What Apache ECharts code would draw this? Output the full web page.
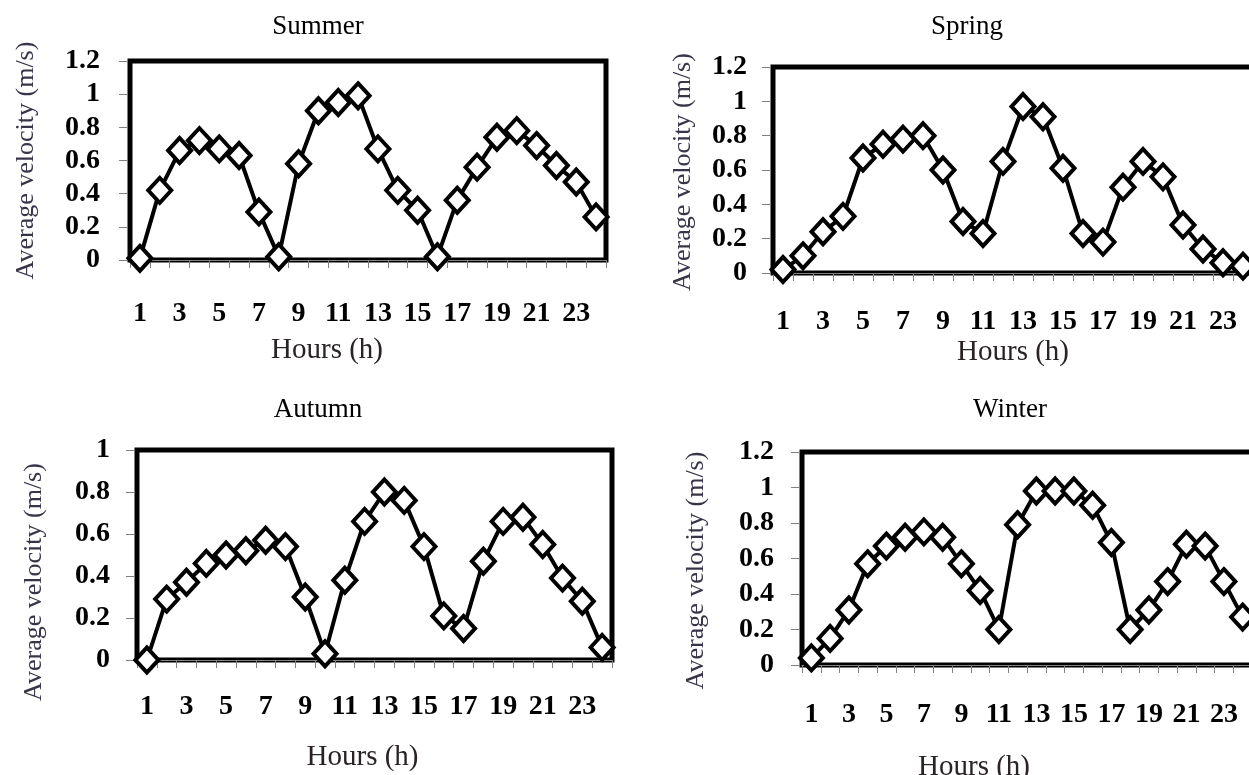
<!DOCTYPE html>
<html>
  <head>
    <meta charset="UTF-8">
    <title>Average velocity by season</title>
    <script src="https://cdn.jsdelivr.net/npm/echarts@6/dist/echarts.min.js"></script>
    <style>
    * {
      margin: 0;
      padding: 0;
    }
    body {
      background: #fff;
    }
    </style>
  </head>
  <body>
    <div id="main" style="width: 1249px;height: 775px"></div>

    <script>
// hours of the day, shared by every panel
var hours = ['1', '2', '3', '4', '5', '6', '7', '8', '9', '10', '11', '12',
  '13', '14', '15', '16', '17', '18', '19', '20', '21', '22', '23', '24']

// average velocity (m/s)
var summer = [0.01, 0.42, 0.66, 0.72, 0.67, 0.63, 0.29, 0.02, 0.58, 0.90, 0.95, 0.99,
  0.67, 0.42, 0.30, 0.02, 0.36, 0.56, 0.74, 0.78, 0.69, 0.57, 0.47, 0.26]
var spring = [0.02, 0.10, 0.24, 0.33, 0.67, 0.75, 0.78, 0.80, 0.60, 0.30, 0.23, 0.65,
  0.97, 0.91, 0.61, 0.23, 0.18, 0.50, 0.65, 0.56, 0.28, 0.14, 0.06, 0.04]
var autumn = [0.00, 0.29, 0.37, 0.46, 0.50, 0.52, 0.57, 0.54, 0.30, 0.03, 0.38, 0.66,
  0.80, 0.76, 0.54, 0.21, 0.15, 0.47, 0.66, 0.68, 0.55, 0.39, 0.28, 0.06]
var winter = [0.04, 0.15, 0.31, 0.57, 0.67, 0.72, 0.75, 0.72, 0.57, 0.42, 0.20, 0.79,
  0.98, 0.98, 0.98, 0.90, 0.69, 0.20, 0.31, 0.47, 0.68, 0.67, 0.47, 0.27]

var seasons = ['Summer', 'Spring', 'Autumn', 'Winter']
var seriesData = [summer, spring, autumn, winter]
var yMax = [1.2, 1.2, 1, 1.2]

// layout of each panel (picked to sit where the original ones do)
var panels = [
  { grid: [130, 61, 476, 199], title: [318, 13], yMargin: 27, yGap: 88, yShift: 0, xMargin: 37, xGap: 73, xShift: -41 },
  { grid: [773, 67, 480, 206], title: [967, 13], yMargin: 23, yGap: 74, yShift: 2, xMargin: 32, xGap: 62, xShift: 0 },
  { grid: [137, 450, 475, 210], title: [318, 396], yMargin: 24, yGap: 87, yShift: 27, xMargin: 30, xGap: 80, xShift: -12 },
  { grid: [802, 452, 450, 213], title: [1010, 396], yMargin: 25, yGap: 90, yShift: 12, xMargin: 33, xGap: 85, xShift: -53 }
]

var font = 'Liberation Serif, Times New Roman, serif'
var gray = '#808080'

var option = {
  backgroundColor: '#fff',
  animation: false,
  title: [],
  grid: [],
  xAxis: [],
  yAxis: [],
  series: []
}

panels.forEach(function(p, i) {
  option.title.push({
    text: seasons[i],
    left: p.title[0],
    top: p.title[1],
    textAlign: 'center',
    padding: 0,
    textStyle: { fontFamily: font, fontWeight: 'normal', fontSize: 27, color: '#000' }
  })
  option.grid.push({
    left: p.grid[0], top: p.grid[1], width: p.grid[2], height: p.grid[3],
    outerBoundsMode: 'none',
    containLabel: false,
    show: true, borderColor: '#000', borderWidth: 5, backgroundColor: 'transparent'
  })
  option.xAxis.push({
    type: 'category',
    gridIndex: i,
    data: hours,
    boundaryGap: true,
    offset: 3,
    axisLine: { lineStyle: { color: gray, width: 1 } },
    axisTick: { show: true, interval: 0, length: 8, lineStyle: { color: gray } },
    axisLabel: { interval: 1, margin: p.xMargin, fontFamily: font, fontWeight: 'bold', fontSize: 28, color: '#000' },
    name: 'Hours (h)',
    nameLocation: 'middle',
    nameGap: p.xGap,
    nameTextStyle: {
      fontFamily: font, fontSize: 29, color: '#2a2326',
      padding: p.xShift < 0 ? [0, -2 * p.xShift, 0, 0] : [0, 0, 0, 2 * p.xShift]
    }
  })
  option.yAxis.push({
    type: 'value',
    gridIndex: i,
    min: 0,
    max: yMax[i],
    interval: 0.2,
    offset: 3,
    splitLine: { show: false },
    axisLine: { show: true, lineStyle: { color: gray, width: 1 } },
    axisTick: { show: true, length: 8, lineStyle: { color: gray } },
    axisLabel: { margin: p.yMargin, fontFamily: font, fontWeight: 'bold', fontSize: 28, color: '#000' },
    name: 'Average velocity (m/s)',
    nameLocation: 'middle',
    nameGap: p.yGap,
    nameTextStyle: {
      fontFamily: font, fontSize: 26, color: '#3a3448',
      padding: [0, 2 * p.yShift, 0, 0]
    }
  })
  option.series.push({
    type: 'line',
    name: seasons[i],
    xAxisIndex: i,
    yAxisIndex: i,
    data: seriesData[i],
    clip: false,
    showAllSymbol: true,
    symbol: 'diamond',
    symbolSize: [23, 25],
    lineStyle: { color: '#000', width: 4 },
    itemStyle: { color: '#fff', borderColor: '#000', borderWidth: 4 }
  })
})

var myChart = echarts.init(document.getElementById('main'))
myChart.setOption(option)
    </script>
  </body>
</html>
